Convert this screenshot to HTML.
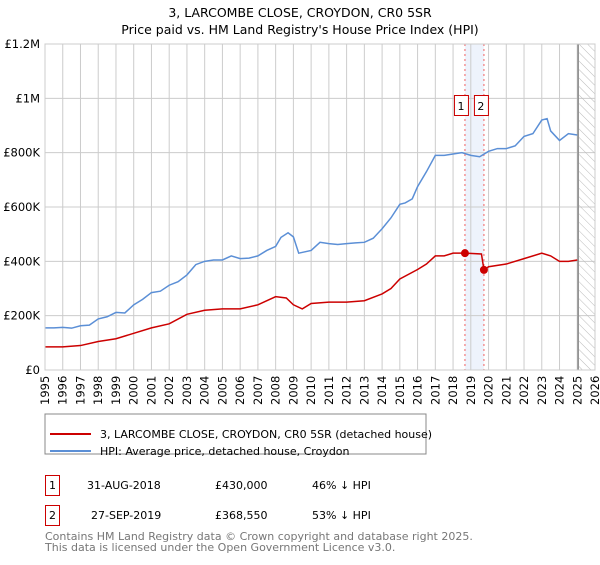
<!DOCTYPE html>
<html><head><meta charset="utf-8"><style>
body{margin:0;background:#fff;font-family:"Liberation Sans","DejaVu Sans",sans-serif;}
svg text{font-family:"DejaVu Sans","Liberation Sans",sans-serif;}
</style></head><body>
<svg width="600" height="560" xmlns="http://www.w3.org/2000/svg">
<defs><pattern id="hatch" width="6" height="6" patternUnits="userSpaceOnUse" patternTransform="rotate(-45)"><line x1="0" y1="0" x2="0" y2="6" stroke="#bbb" stroke-width="1"/></pattern></defs>
<text x="300" y="17" text-anchor="middle" font-size="12.5" fill="#000">3, LARCOMBE CLOSE, CROYDON, CR0 5SR</text>
<text x="300" y="34" text-anchor="middle" font-size="12.5" fill="#000">Price paid vs. HM Land Registry's House Price Index (HPI)</text>
<g id="grid"></g><g id="marks"></g>
<rect x="45" y="44" width="550" height="326" fill="none" stroke="#ccc"/>
<rect x="45" y="414" width="381" height="40" fill="#fff" stroke="#888"/>
<line x1="50" y1="434" x2="91" y2="434" stroke="#cc0000" stroke-width="2"/>
<text x="100" y="438" font-size="11">3, LARCOMBE CLOSE, CROYDON, CR0 5SR (detached house)</text>
<line x1="50" y1="451" x2="91" y2="451" stroke="#5b8fd6" stroke-width="2"/>
<text x="100" y="455" font-size="11">HPI: Average price, detached house, Croydon</text>
<g font-size="11">
<rect x="45.5" y="475.5" width="14" height="20" fill="#fff" stroke="#cc0000"/><text x="52.5" y="489" text-anchor="middle">1</text>
<text x="87" y="489">31-AUG-2018</text><text x="215" y="489">£430,000</text><text x="312" y="489">46% ↓ HPI</text>
<rect x="45.5" y="505.5" width="14" height="20" fill="#fff" stroke="#cc0000"/><text x="52.5" y="519" text-anchor="middle">2</text>
<text x="91" y="519">27-SEP-2019</text><text x="215" y="519">£368,550</text><text x="312" y="519">53% ↓ HPI</text>
</g>
<text x="45" y="540" font-size="11" fill="#777">Contains HM Land Registry data © Crown copyright and database right 2025.</text>
<text x="45" y="551" font-size="11" fill="#777">This data is licensed under the Open Government Licence v3.0.</text>
</svg>
<script>
const yTicks=[0,200000,400000,600000,800000,1000000,1200000];
const yTickLabels=["£0","£200K","£400K","£600K","£800K","£1M","£1.2M"];
const xYears=[1995,1996,1997,1998,1999,2000,2001,2002,2003,2004,2005,2006,2007,2008,2009,2010,2011,2012,2013,2014,2015,2016,2017,2018,2019,2020,2021,2022,2023,2024,2025,2026];
const hpiT=[1995,1995.5,1996,1996.5,1997,1997.5,1998,1998.5,1999,1999.5,2000,2000.5,2001,2001.5,2002,2002.5,2003,2003.5,2004,2004.5,2005,2005.5,2006,2006.5,2007,2007.5,2008,2008.3,2008.7,2009,2009.3,2010,2010.5,2011,2011.5,2012,2012.5,2013,2013.5,2014,2014.5,2015,2015.3,2015.7,2016,2016.5,2017,2017.5,2018,2018.5,2019,2019.5,2020,2020.5,2021,2021.5,2022,2022.5,2023,2023.3,2023.5,2024,2024.5,2025];
const hpiV=[155,155,157,154,163,165,188,196,212,210,240,260,285,290,312,325,350,388,400,405,405,420,410,412,420,440,455,488,505,490,430,440,470,465,462,465,468,470,485,520,560,610,615,630,675,730,790,790,795,800,790,785,805,815,815,825,860,870,920,925,880,845,870,865];
const ppT=[1995,1996,1997,1998,1999,2000,2001,2002,2003,2004,2005,2006,2007,2008,2008.6,2009,2009.5,2010,2011,2012,2013,2014,2014.5,2015,2016,2016.5,2017,2017.5,2018,2018.67,2019.6,2019.74,2020,2021,2022,2023,2023.5,2024,2024.5,2025];
const ppV=[85,85,90,105,115,135,155,170,205,220,225,225,240,270,265,240,225,245,250,250,255,280,300,335,370,390,420,420,430,430,427,368.55,380,390,410,430,420,400,400,405];
const sales=[[2018.67,430],[2019.74,368.55]];
const X=t=>45+(t-1995)*550/31, Y=v=>370-v*326/1200000;
const NS="http://www.w3.org/2000/svg";
function mk(p,tag,a){const e=document.createElementNS(NS,tag);for(const k in a)e.setAttribute(k,a[k]);p.appendChild(e);return e;}
const g=document.getElementById('grid'),m=document.getElementById('marks');
mk(g,'rect',{x:X(2018.67),y:44,width:X(2019.74)-X(2018.67),height:326,fill:'#eef3fc'});
yTicks.forEach((v,i)=>{mk(g,'line',{x1:45,x2:595,y1:Y(v),y2:Y(v),stroke:'#ccc'});
const t=mk(g,'text',{x:40,y:Y(v)+4,'text-anchor':'end','font-size':11.5});t.textContent=yTickLabels[i];

});
xYears.forEach(yr=>{mk(g,'line',{x1:X(yr),x2:X(yr),y1:44,y2:370,stroke:'#ccc'});
const t=mk(g,'text',{x:0,y:0,'font-size':11.5,transform:`translate(${X(yr)+4},405) rotate(-90)`});t.textContent=yr;

});
mk(g,'rect',{x:X(2025.1),y:44,width:595-X(2025.1),height:326,fill:'url(#hatch)'});
mk(g,'line',{x1:X(2025.05),x2:X(2025.05),y1:44,y2:370,stroke:'#888','stroke-width':1.5});
sales.forEach((s,i)=>{mk(g,'line',{x1:X(s[0]),x2:X(s[0]),y1:44,y2:370,stroke:'#f06060','stroke-dasharray':'2,3'});});
const hp=mk(m,'polyline',{points:hpiT.map((t,i)=>X(t)+','+Y(hpiV[i]*1000)).join(' '),fill:'none',stroke:'#5b8fd6','stroke-width':1.5});


const pp=mk(m,'polyline',{points:ppT.map((t,i)=>X(t)+','+Y(ppV[i]*1000)).join(' '),fill:'none',stroke:'#cc0000','stroke-width':1.5});


sales.forEach((s,i)=>{const c=mk(m,'circle',{cx:X(s[0]),cy:Y(s[1]*1000),r:4,fill:'#cc0000'});


const bx=X(s[0])-10+(i?0:-0);const r=mk(m,'rect',{x:(i?X(s[0])-10:X(s[0])-11)+0.5,y:95.5,width:14,height:20,fill:'#fff',stroke:'#cc0000'});


const t=mk(m,'text',{x:(i?X(s[0])-3:X(s[0])-4),y:110,'text-anchor':'middle','font-size':11});t.textContent=String(i+1);

});
</script>
</body></html>
